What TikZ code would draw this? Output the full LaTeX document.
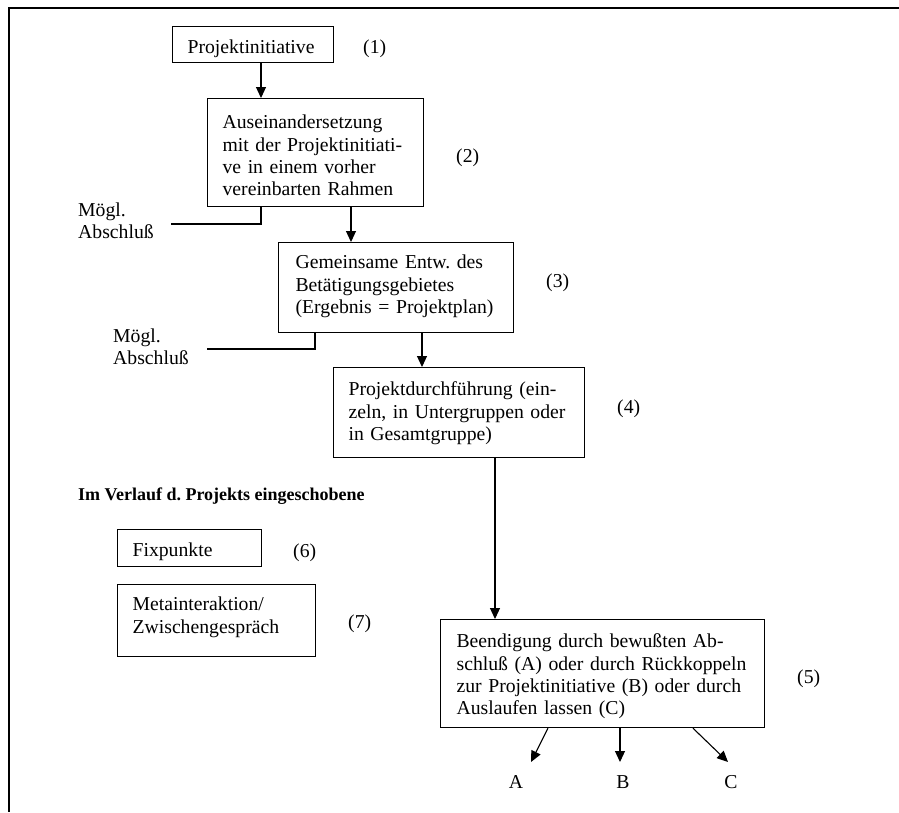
\documentclass[tikz,border=0pt]{standalone}
\usepackage{fontspec}
\setmainfont{Liberation Serif}
\usetikzlibrary{arrows.meta}
\frenchspacing
% left-aligned lines whose first baseline is the box baseline
\newcommand\boxlines[1]{\begin{tabular}[t]{@{}l@{}}#1\end{tabular}}

\begin{document}
\begin{tikzpicture}[x=1pt,y=-1pt,
  every node/.style={font=\fontsize{19.7}{22.4}\selectfont},
  pbox/.style={draw, line width=1.2pt, anchor=north west, inner xsep=15pt, inner ysep=0pt},
  tag/.style={anchor=base west, inner sep=0pt},
  flow/.style={line width=1.1pt, -{Triangle[length=11pt,width=10pt]}},
  plain/.style={line width=1.1pt}]
\useasboundingbox (0,0) rectangle (899,812);

% page frame
\draw[line width=1.7pt] (899,8) -- (9,8) -- (9,812);

% process boxes
\node[pbox, text width=131pt, text height=27pt, text depth=9pt] (b1) at (172,26)
  {\boxlines{Projektinitiative}};
\node[pbox, text width=186pt, text height=30pt, text depth=78pt] (b2) at (207,98)
  {\boxlines{Auseinandersetzung\\mit der Projektinitiati-\\ve in einem vorher\\vereinbarten Rahmen}};
\node[pbox, inner xsep=17pt, text width=201pt, text height=26pt, text depth=64pt] (b3) at (278,242)
  {\boxlines{Gemeinsame Entw. des\\Betätigungsgebietes\\(Ergebnis = Projektplan)}};
\node[pbox, text width=221pt, text height=28pt, text depth=62pt] (b4) at (333,367)
  {\boxlines{Projektdurchführung (ein-\\zeln, in Untergruppen oder\\in Gesamtgruppe)}};
\node[pbox, inner xsep=16pt, text width=292pt, text height=28pt, text depth=80pt] (b5) at (440,619)
  {\boxlines{Beendigung durch bewußten Ab-\\schluß (A) oder durch Rückkoppeln\\zur Projektinitiative (B) oder durch\\Auslaufen lassen (C)}};
\node[pbox, text width=114pt, text height=26.5pt, text depth=10.5pt] (b6) at (117,529)
  {\boxlines{Fixpunkte}};
\node[pbox, text width=168pt, text height=26pt, text depth=46pt] (b7) at (117,584)
  {\boxlines{Metainteraktion/\\Zwischengespräch}};

% step numbers
\node[tag] (n1) at (363,53) {(1)};
\node[tag] (n2) at (456,162) {(2)};
\node[tag] (n3) at (546,287) {(3)};
\node[tag] (n4) at (617,413) {(4)};
\node[tag] (n5) at (797,683) {(5)};
\node[tag] (n6) at (293,557) {(6)};
\node[tag] (n7) at (348,628) {(7)};

% side labels
\node[tag] (x1) at (78,216) {\boxlines{Mögl.\\Abschluß}};
\node[tag] (x2) at (113,342) {\boxlines{Mögl.\\Abschluß}};
\node[tag, font=\bfseries\fontsize{18}{21}\selectfont] (hd) at (78,500)
  {Im Verlauf d. Projekts eingeschobene};

% outcomes
\node[anchor=base, inner sep=0pt] (lA) at (516,788) {A};
\node[anchor=base, inner sep=0pt] (lB) at (623,788) {B};
\node[anchor=base, inner sep=0pt] (lC) at (731,788) {C};

\coordinate (m1) at (171,224);
\coordinate (m2) at (207,349);
\coordinate (eA) at (531,762);
\coordinate (eB) at (620,762);
\coordinate (eC) at (728,762);

% connectors
\draw[flow] ([xshift=89pt]b1.south west) -- ([xshift=54pt]b2.north west);
\draw[plain] ([xshift=54pt]b2.south west) |- (m1);
\draw[flow] ([xshift=144pt]b2.south west) -- ([xshift=73pt]b3.north west);
\draw[plain] ([xshift=37pt]b3.south west) |- (m2);
\draw[flow] ([xshift=144pt]b3.south west) -- ([xshift=89pt]b4.north west);
\draw[flow] ([xshift=162pt]b4.south west) -- ([xshift=55pt]b5.north west);
\draw[flow] ([xshift=108pt]b5.south west) -- (eA);
\draw[flow] ([xshift=180pt]b5.south west) -- (eB);
\draw[flow] ([xshift=253pt]b5.south west) -- (eC);
\end{tikzpicture}
\end{document}
